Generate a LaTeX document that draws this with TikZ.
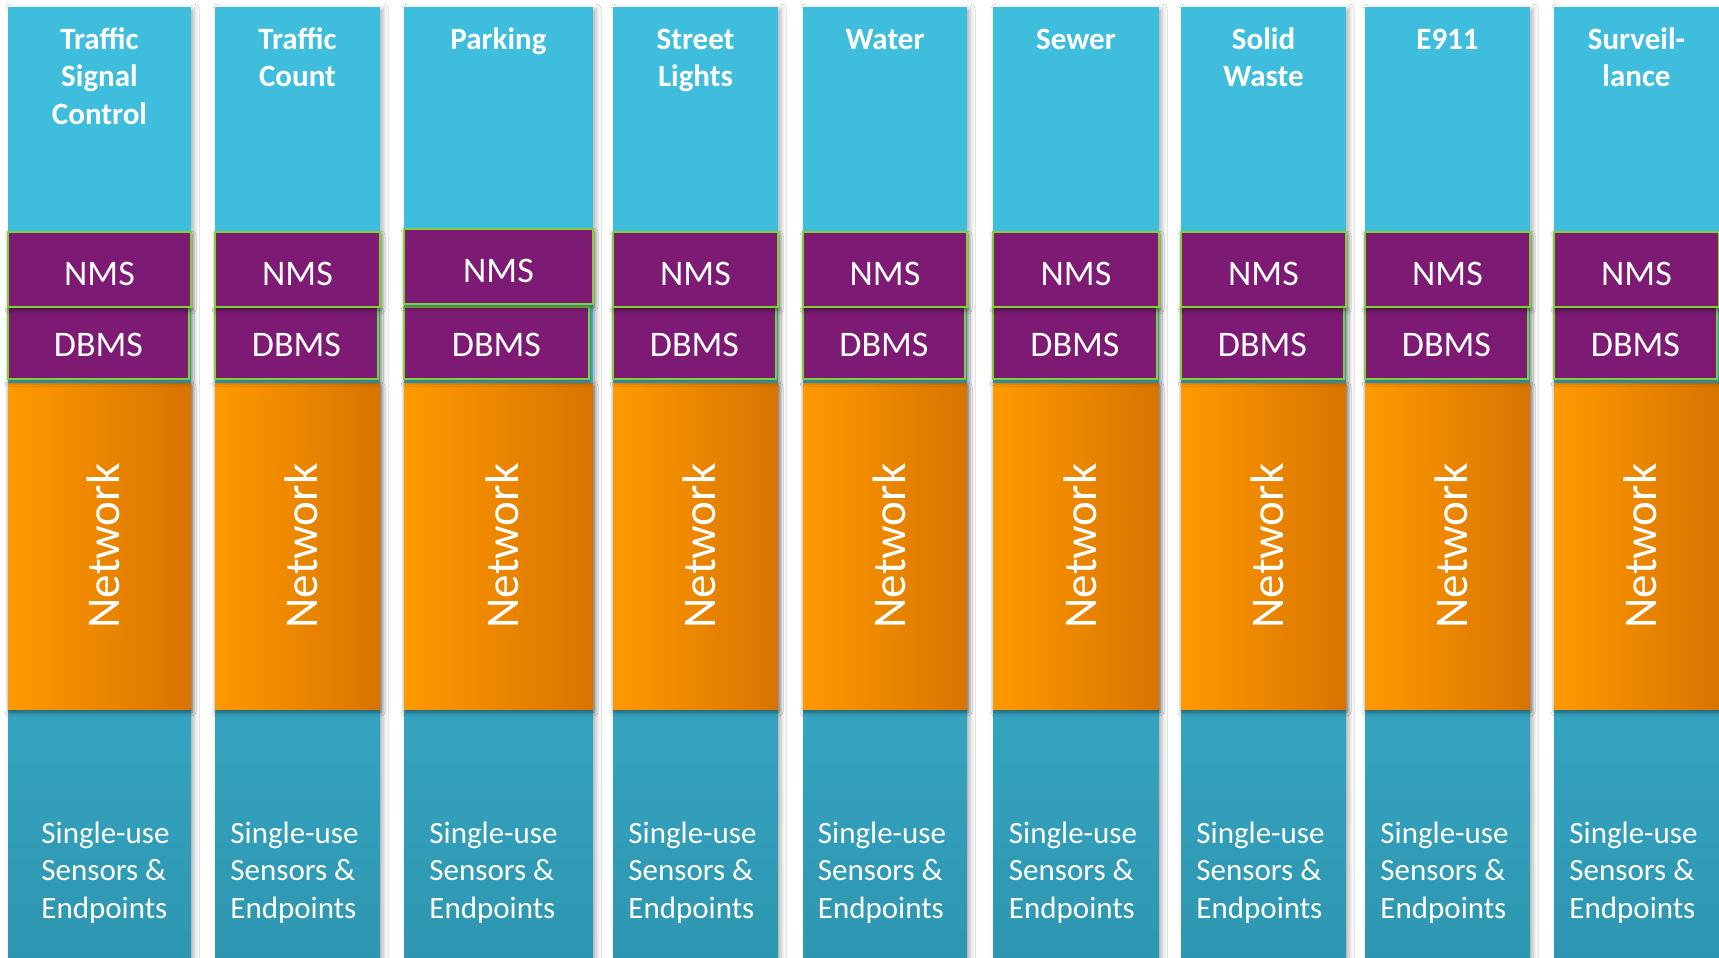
\documentclass[tikz,border=0pt]{standalone}
\usepackage{fontspec}
\setmainfont{Carlito}
\usetikzlibrary{shadows.blur}

\definecolor{skyblue}{HTML}{3FBDDC}
\definecolor{tealtop}{HTML}{35A4C0}
\definecolor{tealbot}{HTML}{2E96B0}
\definecolor{plum}{HTML}{7C1A74}
\definecolor{lime}{HTML}{82CF38}
\definecolor{orangeL}{HTML}{FF9900}
\definecolor{orangeM}{HTML}{F28F00}
\definecolor{orangeR}{HTML}{D87400}

\tikzset{
  panel/.style={anchor=north west, inner sep=0pt, outer sep=0pt},
  colshadow/.style={blur shadow={shadow xshift=3pt, shadow yshift=-2pt,
      shadow blur radius=5pt, shadow opacity=30}},
  boxshadow/.style={blur shadow={shadow xshift=1pt, shadow yshift=-3pt,
      shadow blur radius=4pt, shadow opacity=45}},
  column/.style={panel, fill=skyblue, colshadow},
  basepanel/.style={panel, top color=tealtop, bottom color=tealbot},
  netpanel/.style={panel, left color=orangeL, middle color=orangeM,
      right color=orangeR, boxshadow},
  layerbox/.style={panel, fill=plum, draw=lime, line width=2pt, boxshadow,
      text=white, font=\fontsize{36}{40}\selectfont, text height=40pt},
  titletext/.style={anchor=north, inner sep=0pt, align=center, text=white,
      font=\bfseries\fontsize{31}{37.5}\selectfont},
  nettext/.style={rotate=90, inner sep=0pt, text=white,
      font=\fontsize{47}{50}\selectfont},
  senstext/.style={anchor=north, inner sep=0pt, align=left, text=white,
      font=\fontsize{31}{37.5}\selectfont},
}

\begin{document}
\begin{tikzpicture}[x=1pt, y=1pt]
\useasboundingbox (0,0) rectangle (1719,-958);
\fill[white] (0,0) rectangle (1719,-958);

% one vertical stack per city service:
% index / left / right / NMS top / DBMS inset / sensor text offset / title
\foreach \i/\l/\r/\nt/\di/\sx/\ttl in {
  1/8/191/232/2/6/{Traffic\\Signal\\Control},
  2/215/380/232/2/-3/{Traffic\\Count},
  3/404/593/229/4/-5/{Parking},
  4/613/778/232/2/-3/{Street\\Lights},
  5/803/967/232/2/-3/{Water},
  6/993/1159/232/2/-3/{Sewer},
  7/1181/1346/232/2/-3/{Solid\\Waste},
  8/1365/1530/232/2/-3/{E911},
  9/1554/1719/232/2/-3/{Surveil-\\lance}}
{
  \pgfmathsetmacro{\colw}{\r-\l}
  \pgfmathsetmacro{\dbw}{\r-\l-\di}
  \pgfmathsetmacro{\cx}{(\l+\r)/2}
  % column body and sensor band
  \node[column, minimum width=\colw pt, minimum height=951pt] (col\i) at (\l,-7) {};
  \node[basepanel, minimum width=\colw pt, minimum height=249pt] (base\i) at (\l,-709) {};
  % network band
  \node[netpanel, minimum width=\colw pt, minimum height=326pt] (net\i) at (\l,-383) {};
  \node[nettext] (netlbl\i) at (\cx+4,-546) {Network};
  % database and management layers
  \node[layerbox, minimum width=\dbw pt, minimum height=72pt, text depth=12.8pt] (dbms\i) at (\l,-307) {DBMS};
  \node[layerbox, minimum width=\colw pt, minimum height=75pt, text depth=8.8pt] (nms\i) at (\l,-\nt) {NMS};
  % labels
  \node[titletext] (title\i) at (\cx,-24) {\rule{0pt}{25pt}\ttl};
  \node[senstext] (sens\i) at (\cx+\sx,-818) {\rule{0pt}{25pt}Single-use\\Sensors \&\\Endpoints};
}
\end{tikzpicture}
\end{document}
